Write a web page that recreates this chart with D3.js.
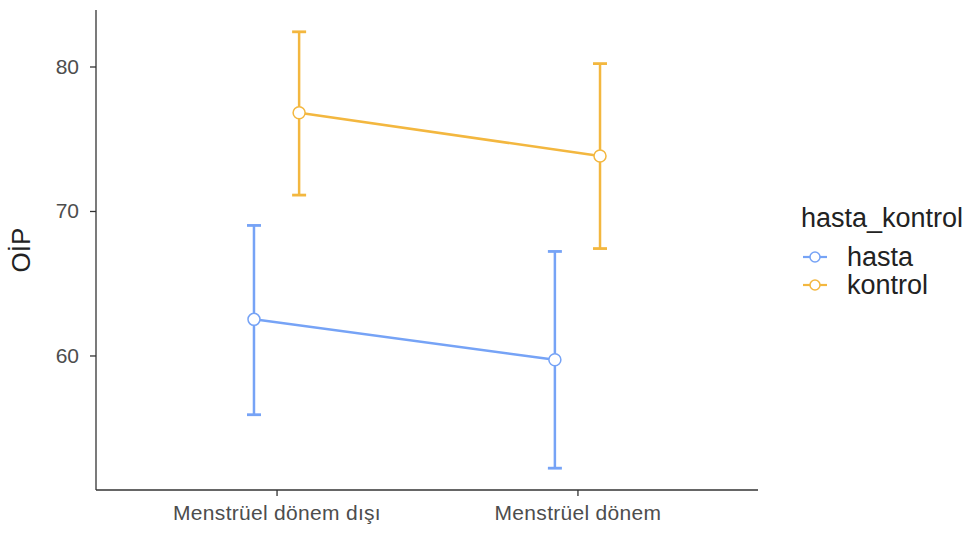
<!DOCTYPE html>
<html>
<head>
<meta charset="utf-8">
<script src="https://cdn.jsdelivr.net/npm/d3@7"></script>
<style>
  html, body { margin: 0; padding: 0; background: #fff; }
  svg { display: block; font-family: "Liberation Sans", Arial, Helvetica, sans-serif; }
</style>
</head>
<body>
<svg id="chart" width="977" height="536"></svg>
<script>
// Period categories on the x axis
const periods = ["Menstrüel dönem dışı", "Menstrüel dönem"];
// Groups (legend order)
const groups = ["hasta", "kontrol"];
const groupColors = ["#76a3f6", "#f3b73f"];

// Group means and error bar limits per period
const hastaMean  = [62.5, 59.7];
const hastaLow   = [55.9, 52.2];
const hastaHigh  = [69.0, 67.2];
const kontrolMean = [76.8, 73.8];
const kontrolLow  = [71.1, 67.4];
const kontrolHigh = [82.4, 80.2];

const yTicks = [60, 70, 80];
const yTitle = "OİP";
const legendTitle = "hasta_kontrol";

const series = [
  { name: groups[0], color: groupColors[0], mean: hastaMean, low: hastaLow, high: hastaHigh },
  { name: groups[1], color: groupColors[1], mean: kontrolMean, low: kontrolLow, high: kontrolHigh }
];

const svg = d3.select("#chart");
const plot = { left: 96, right: 758, top: 10, bottom: 490 };

// y scale with 5% expansion around the data range
const allLow = d3.min(series, s => d3.min(s.low));
const allHigh = d3.max(series, s => d3.max(s.high));
const pad = (allHigh - allLow) * 0.05;
const y = d3.scaleLinear()
  .domain([allLow - pad, allHigh + pad])
  .range([plot.bottom, plot.top]);

// discrete x: positions 1..n with 0.6 expansion either side
const xPos = d3.scaleLinear()
  .domain([1 - 0.6, periods.length + 0.6])
  .range([plot.left, plot.right]);
const dodge = 0.075; // half of dodge width in category units
const xOf = (i, g) => xPos(i + 1 + (g === 0 ? -dodge : dodge));

// axes
const yAxis = d3.axisLeft(y).tickValues(yTicks).tickSize(6).tickPadding(11);
const gy = svg.append("g").attr("transform", `translate(${plot.left},0)`).call(yAxis);
gy.select(".domain").attr("d", `M0,${plot.top}V${plot.bottom}`);

const xAxis = d3.axisBottom(xPos)
  .tickValues(periods.map((p, i) => i + 1))
  .tickFormat((d) => periods[d - 1])
  .tickSize(6).tickPadding(8);
const gx = svg.append("g").attr("transform", `translate(0,${plot.bottom})`).call(xAxis);
gx.select(".domain").attr("d", `M${plot.left},0H${plot.right}`);

[gx, gy].forEach(g => {
  g.select(".domain").attr("stroke", "#333").attr("stroke-width", 1.3).attr("fill", "none");
  g.selectAll(".tick line").attr("stroke", "#333").attr("stroke-width", 1.3);
  g.selectAll(".tick text").attr("fill", "#4d4d4d").style("font-size", "21px")
    .style("font-family", "'Liberation Sans', Arial, sans-serif");
});
gx.selectAll(".tick text").attr("dy", "0.75em").style("letter-spacing", "0.3px");

// y title
svg.append("text")
  .attr("transform", `translate(30,${(plot.top + plot.bottom) / 2}) rotate(-90)`)
  .attr("text-anchor", "middle")
  .attr("fill", "#222")
  .style("font-size", "26px")
  .text(yTitle);

// series
series.forEach((s, g) => {
  const grp = svg.append("g");
  const pts = periods.map((p, i) => ({ x: xOf(i, g), m: s.mean[i], lo: s.low[i], hi: s.high[i] }));

  grp.append("path")
    .datum(pts)
    .attr("fill", "none")
    .attr("stroke", s.color)
    .attr("stroke-width", 2.5)
    .attr("d", d3.line().x(d => d.x).y(d => y(d.m)));

  const cap = 7;
  pts.forEach(d => {
    grp.append("line").attr("x1", d.x).attr("x2", d.x).attr("y1", y(d.lo)).attr("y2", y(d.hi))
      .attr("stroke", s.color).attr("stroke-width", 2.5);
    grp.append("line").attr("x1", d.x - cap).attr("x2", d.x + cap).attr("y1", y(d.hi)).attr("y2", y(d.hi))
      .attr("stroke", s.color).attr("stroke-width", 2.8);
    grp.append("line").attr("x1", d.x - cap).attr("x2", d.x + cap).attr("y1", y(d.lo)).attr("y2", y(d.lo))
      .attr("stroke", s.color).attr("stroke-width", 2.8);
  });

  grp.selectAll("circle").data(pts).join("circle")
    .attr("cx", d => d.x).attr("cy", d => y(d.m)).attr("r", 6)
    .attr("fill", "#fff").attr("stroke", s.color).attr("stroke-width", 1.5);
});

// legend
const lg = svg.append("g").attr("transform", "translate(800,0)");
lg.append("text").attr("x", 1).attr("y", 227).attr("fill", "#222")
  .style("font-size", "27px").text(legendTitle);
series.forEach((s, g) => {
  const cy = 257 + g * 28;
  lg.append("line").attr("x1", 3).attr("x2", 27).attr("y1", cy).attr("y2", cy)
    .attr("stroke", s.color).attr("stroke-width", 2.2);
  lg.append("circle").attr("cx", 15).attr("cy", cy).attr("r", 5)
    .attr("fill", "#fff").attr("stroke", s.color).attr("stroke-width", 1.5);
  lg.append("text").attr("x", 47).attr("y", cy + 9).attr("fill", "#222")
    .style("font-size", "27px").text(s.name);
});
</script>
</body>
</html>
